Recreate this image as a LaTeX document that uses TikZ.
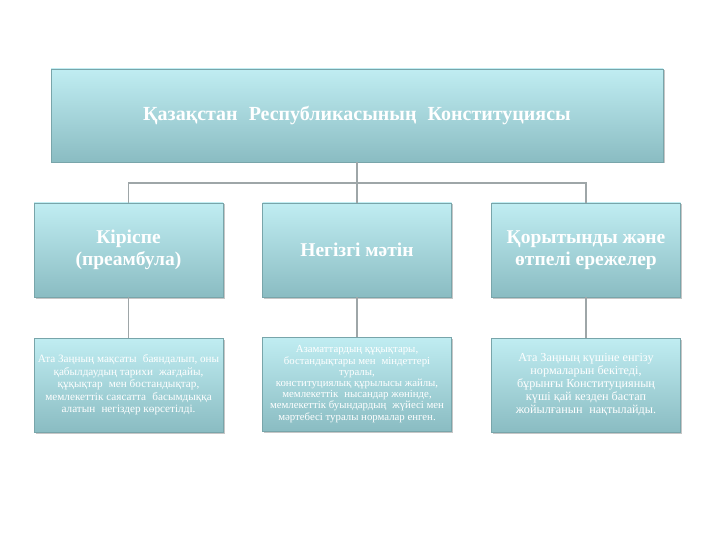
\documentclass[tikz,border=0pt]{standalone}
\usepackage{fontspec}
\setmainfont{Liberation Serif}
\usetikzlibrary{shadows}
\definecolor{boxtop}{RGB}{192,237,242}
\definecolor{boxbot}{RGB}{138,188,194}
\definecolor{boxedge}{RGB}{120,165,170}
\definecolor{conncol}{RGB}{158,166,168}
\newcommand{\dsp}{\hspace{0.55em}}
\tikzset{
  box/.style={draw=boxedge, line width=0.6pt, top color=boxtop, bottom color=boxbot,
    drop shadow={shadow xshift=1.5pt, shadow yshift=-1.5pt, opacity=0.45},
    text=white, align=center, inner sep=0pt, minimum width=189pt, minimum height=94pt},
  conn/.style={draw=conncol, line width=1.4pt},
  ttl/.style={font=\fontsize{19.5}{22}\selectfont\bfseries},
}
\begin{document}
\begin{tikzpicture}[x=1pt,y=-1pt]
\useasboundingbox (0,0) rectangle (720,540);
\node[box, minimum width=612pt, minimum height=93pt, font=\fontsize{20}{24}\selectfont\bfseries] (top) at (357,115.5) {Қазақстан\dsp Республикасының\dsp Конституциясы};
\node[box, ttl] (m1) at (128.5,250) {Кіріспе\\(преамбула)};
\node[box, ttl] (m2) at (357,250) {Негізгі мәтін};
\node[box, ttl] (m3) at (586,250) {Қорытынды және\\өтпелі ережелер};
\node[box, font=\fontsize{11.2}{12.5}\selectfont] (b1) at (128.5,385) {Ата Заңның мақсаты\dsp баяндалып, оны\\қабылдаудың тарихи\dsp жағдайы,\\құқықтар\dsp мен бостандықтар,\\мемлекеттік саясатта\dsp басымдыққа\\алатын\dsp негіздер көрсетілді.};
\node[box, font=\fontsize{10.8}{11.2}\selectfont] (b2) at (357,384) {Азаматтардың құқықтары,\\бостандықтары мен\dsp міндеттері\\туралы,\\конституциялық құрылысы жайлы,\\мемлекеттік\dsp нысандар жөнінде,\\мемлекеттік буындардың\dsp жүйесі мен\\мәртебесі туралы нормалар енген.};
\node[box, font=\fontsize{12.2}{13}\selectfont] (b3) at (586,385) {Ата Заңның күшіне енгізу\\нормаларын бекітеді,\\бұрынғы Конституцияның\\күші қай кезден бастап\\жойылғанын\dsp нақтылайды.};
\coordinate (bus) at (357,183);
\draw[conn] (top.south) -- (m2.north);
\draw[conn] (m1.north) |- (bus) -| (m3.north);
\draw[conn] (m1.south) -- (b1.north);
\draw[conn] (m2.south) -- (b2.north);
\draw[conn] (m3.south) -- (b3.north);
\end{tikzpicture}
\end{document}
